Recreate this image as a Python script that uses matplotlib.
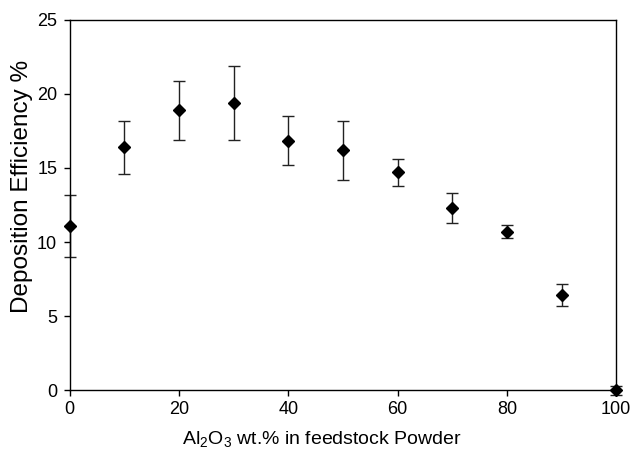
import matplotlib
matplotlib.use("Agg")
import matplotlib.pyplot as plt

# Al2O3 content (wt.%) and deposition efficiency (%) with error bars
al2o3_wt = [0, 10, 20, 30, 40, 50, 60, 70, 80, 90, 100]
efficiency = [11.1, 16.4, 18.9, 19.4, 16.85, 16.2, 14.7, 12.3, 10.7, 6.4, 0.0]
err = [2.1, 1.8, 2.0, 2.5, 1.65, 2.0, 0.9, 1.0, 0.45, 0.75, 0.3]

plt.rcParams["font.family"] = ["Liberation Sans", "DejaVu Sans"]

fig = plt.figure(figsize=(6.34, 4.5), dpi=100)
ax = fig.add_axes([0.110, 0.133, 0.862, 0.823])

ax.errorbar(al2o3_wt, efficiency, yerr=err, fmt="D", color="black",
            ms=6.3, ecolor="#222222", elinewidth=1.0, capsize=4,
            capthick=1.0, clip_on=False, zorder=3)

ax.set_xlim(0, 100)
ax.set_ylim(0, 25)
ax.set_xticks([0, 20, 40, 60, 80, 100])
ax.set_yticks([0, 5, 10, 15, 20, 25])
ax.tick_params(direction="out", length=4, width=1, labelsize=13,
               top=False, right=False)
ax.tick_params(axis="y", pad=5)
for s in ax.spines.values():
    s.set_linewidth(1.0)
    s.set_zorder(4)

ax.set_xlabel("Al$_\\mathregular{2}$O$_\\mathregular{3}$ wt.% in feedstock Powder",
              fontsize=14, va="center")
ax.xaxis.set_label_coords(0.461, -0.135)
ax.set_ylabel("Deposition Efficiency %", fontsize=17.5, va="center")
ax.yaxis.set_label_coords(-0.088, 0.551)

fig.savefig("out.png", dpi=100)
